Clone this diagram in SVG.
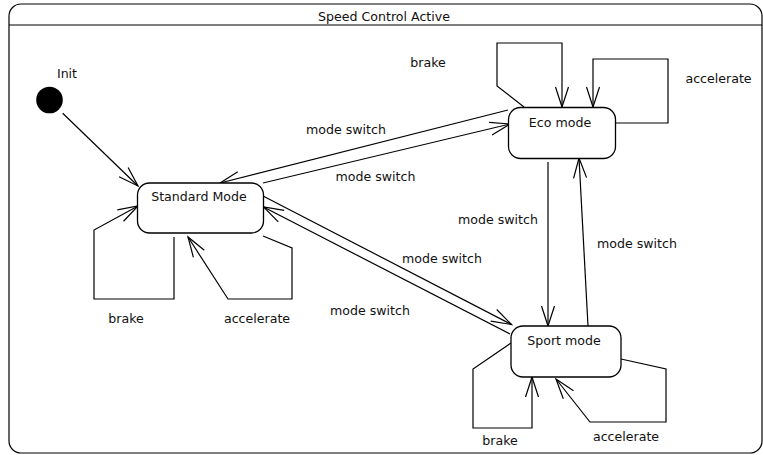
<svg xmlns="http://www.w3.org/2000/svg" width="763" height="455" viewBox="0 0 763 455">
<style>
text{font-family:"DejaVu Sans","Liberation Sans",sans-serif;font-size:12.6px;fill:#111;text-anchor:middle}
.box{fill:#fff;stroke:#000;stroke-width:1.3}
.c{fill:none;stroke:#000;stroke-width:1.2}
</style>
<defs>
<marker id="arr" markerWidth="24" markerHeight="16" refX="21" refY="7" orient="auto" markerUnits="userSpaceOnUse" viewBox="0 0 24 16" style="overflow:visible">
<path d="M1,0.5 L21,7 L1,13.5" fill="none" stroke="#000" stroke-width="1.2"/>
</marker>
</defs>
<rect width="763" height="455" fill="#fff"/>
<g id="frame">
<rect x="9" y="4" width="753" height="449" rx="12" class="c" stroke-width="1.3"/>
<line x1="9" y1="25" x2="762" y2="25" class="c"/>
<text x="384" y="21">Speed Control Active</text>
</g>
<g id="connectors">
<line class="c" x1="62.7" y1="113.3" x2="138" y2="186" marker-end="url(#arr)"/>
<polyline class="c" points="174,237 174,299 94,299 94,230 138,206" marker-end="url(#arr)"/>
<polyline class="c" points="263,236 292,248 292,299 228,299 188,237" marker-end="url(#arr)"/>
<line class="c" x1="508" y1="110" x2="220" y2="183" marker-end="url(#arr)"/>
<line class="c" x1="263" y1="183" x2="510" y2="124" marker-end="url(#arr)"/>
<line class="c" x1="263" y1="196" x2="511.5" y2="324.5" marker-end="url(#arr)"/>
<line class="c" x1="510" y1="334" x2="263.5" y2="207" marker-end="url(#arr)"/>
<line class="c" x1="548" y1="162" x2="548" y2="326" marker-end="url(#arr)"/>
<line class="c" x1="588" y1="326" x2="579" y2="158" marker-end="url(#arr)"/>
<polyline class="c" points="524,107 497,86 497,43 562,43 562,107" marker-end="url(#arr)"/>
<polyline class="c" points="615,123 668,123 668,59 593,59 593,107" marker-end="url(#arr)"/>
<polyline class="c" points="511,343 473,369 473,428 532,428 532,377" marker-end="url(#arr)"/>
<polyline class="c" points="621,359 666,369 666,422 590,422 556,379" marker-end="url(#arr)"/>
<text x="346" y="134">mode switch</text>
<text x="375.5" y="181">mode switch</text>
<text x="498" y="224">mode switch</text>
<text x="637" y="248">mode switch</text>
<text x="442" y="262.5">mode switch</text>
<text x="370" y="315">mode switch</text>
<text x="126" y="323">brake</text>
<text x="257" y="323">accelerate</text>
<text x="428" y="67">brake</text>
<text x="718.5" y="83">accelerate</text>
<text x="500" y="445">brake</text>
<text x="626" y="440.5">accelerate</text>
</g>
<g id="init">
<circle cx="49.5" cy="100" r="13.3" fill="#000"/>
<text x="67" y="78">Init</text>
</g>
<g id="standard">
<rect class="box" x="137.5" y="183" width="126" height="50" rx="12"/>
<text x="199" y="201">Standard Mode</text>
</g>
<g id="eco">
<rect class="box" x="508.5" y="107.5" width="107" height="51" rx="12"/>
<text x="560" y="127">Eco mode</text>
</g>
<g id="sport">
<rect class="box" x="511" y="326" width="110" height="51" rx="12"/>
<text x="564" y="345">Sport mode</text>
</g>
</svg>
